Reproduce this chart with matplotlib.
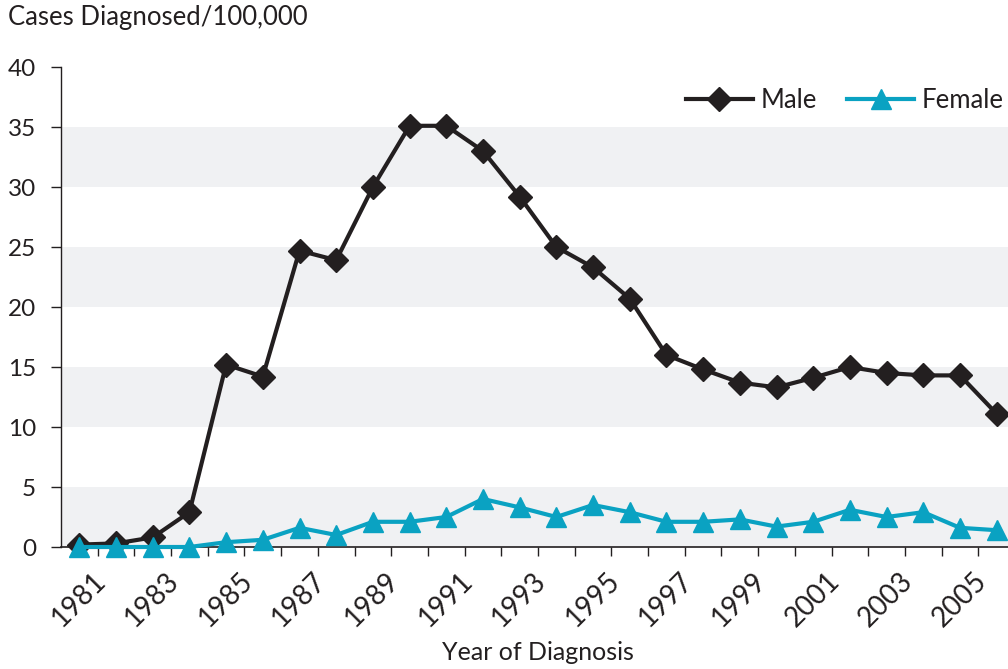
import matplotlib
matplotlib.use("Agg")
import matplotlib.pyplot as plt
import matplotlib.transforms as mtransforms

# du lieu doc tu hinh goc
years = list(range(1981, 2007))
male = [0.2, 0.3, 0.8, 2.9, 15.2, 14.2, 24.7, 23.9, 30.0, 35.1, 35.1, 33.0, 29.2,
        25.0, 23.3, 20.7, 16.0, 14.8, 13.7, 13.3, 14.1, 15.0, 14.5, 14.3, 14.3, 11.1]
female = [0.0, 0.0, 0.0, 0.0, 0.4, 0.6, 1.6, 1.0, 2.1, 2.1, 2.5, 4.0, 3.3,
          2.5, 3.5, 2.9, 2.1, 2.1, 2.3, 1.7, 2.1, 3.1, 2.5, 2.9, 1.6, 1.4]
y_ticks = [0, 5, 10, 15, 20, 25, 30, 35, 40]
label_years = years[::2]

DARK = "#231f20"
BLUE = "#0aa2c2"
BAND = "#f0f1f3"

plt.rcParams['font.family'] = ['Lato', 'DejaVu Sans']

fig = plt.figure(figsize=(10.08, 6.69), dpi=100)
ax = fig.add_axes([61 / 1008, 1 - 547 / 669, (1015 - 61) / 1008, (547 - 67) / 669])

# dai xam xen ke
for lo in range(0, 40, 10):
    ax.axhspan(lo, lo + 5, color=BAND, lw=0, zorder=0)

ax.plot(years, male, color=DARK, lw=3, marker='D', ms=12.5, label='Male',
        zorder=3, clip_on=False)
ax.plot(years, female, color=BLUE, lw=3, marker='^', ms=15, label='Female',
        zorder=4, clip_on=False)

ax.set_xlim(years[0] - 0.5, years[-1] + 0.5)
ax.set_ylim(0, 40)

# truc y
ax.set_yticks(y_ticks)
ax.tick_params(axis='y', length=7, width=1, color=DARK, pad=11,
               labelsize=17.5, labelcolor=DARK)

# truc x: vach o bien giua cac nam, nhan nam le dat o giua
ax.set_xticks([y - 0.5 for y in years[1:]])
ax.set_xticklabels([])
ax.tick_params(axis='x', which='major', length=6.5, width=1, color=DARK)
shift = mtransforms.ScaledTranslation(9.4 / 72, -15 / 72, fig.dpi_scale_trans)
for yr in label_years:
    ax.text(yr, 0, str(yr), transform=ax.get_xaxis_transform() + shift,
            rotation=45, rotation_mode='anchor', ha='right', va='top',
            fontsize=20, color=DARK, clip_on=False)

for side in ['top', 'right']:
    ax.spines[side].set_visible(False)
ax.spines['left'].set_color(DARK)
ax.spines['left'].set_linewidth(1)
ax.spines['bottom'].set_color(DARK)
ax.spines['bottom'].set_linewidth(1.2)

fig.text(8 / 1008, 1 - 18 / 669, "Cases Diagnosed/100,000", fontsize=18.5,
         color=DARK, ha='left', va='center')
fig.text(538 / 1008, 1 - 652 / 669, "Year of Diagnosis", fontsize=18,
         color=DARK, ha='center', va='center')

fig.legend(loc='center right', bbox_to_anchor=(1004 / 1008, 1 - 100 / 669),
           ncol=2, frameon=False, fontsize=18.5, handlelength=2.6,
           columnspacing=1.2, handletextpad=0.3, labelcolor=DARK,
           borderpad=0, borderaxespad=0)

fig.savefig("out.png", dpi=100, facecolor='white')
